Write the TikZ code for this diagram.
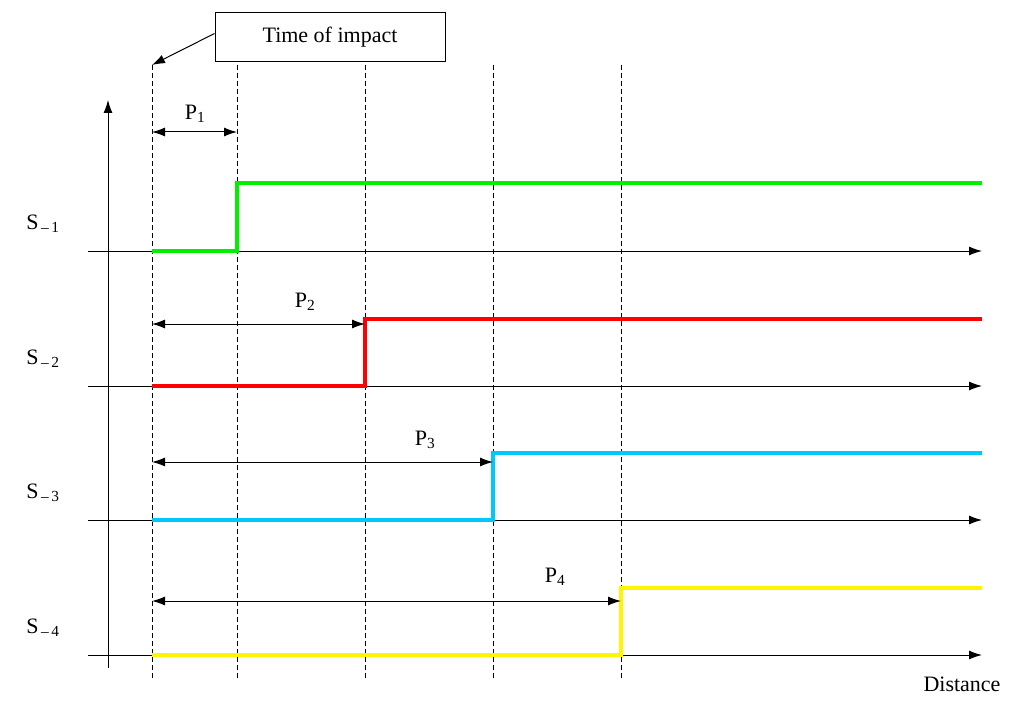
\documentclass[tikz,border=0pt]{standalone}
\usepackage{fontspec}
\usetikzlibrary{arrows.meta}
\setmainfont{Liberation Serif}
\begin{document}
\begin{tikzpicture}[x=1pt,y=-1pt,
 tip/.tip={Latex[length=13pt,width=9pt]},
 ax/.style={line width=1pt,-tip},
 dsh/.style={line width=1pt,dash pattern=on 5pt off 3pt},
 dim/.style={line width=1pt,tip-tip},
 sig/.style={line width=4.5pt,line join=miter},
 lab/.style={font=\fontsize{22}{24}\selectfont,inner sep=0pt}]
\useasboundingbox (0,0) rectangle (1024,714);
\definecolor{g}{RGB}{0,240,0}\definecolor{r}{RGB}{255,0,0}
\definecolor{b}{RGB}{0,200,250}\definecolor{yy}{RGB}{255,245,0}
% dashed lines
\foreach \n/\x in {a/152,b/237,c/365,d/493,e/621}{
 \coordinate (\n t) at (\x,65); \coordinate (\n b) at (\x,680);
 \draw[dsh] (\n t) -- (\n b);}
% vertical axis
\coordinate (v0) at (108,668); \coordinate (v1) at (108,100);
\draw[ax] (v0) -- (v1);
% horizontal axes
\foreach \i/\y in {1/251,2/386,3/520,4/655}{
 \coordinate (h\i s) at (88,\y); \coordinate (h\i e) at (982,\y);
 \draw[ax] (h\i s) -- (h\i e);
 \node[lab] (s\i) at (43,\y-27) {S\textsubscript{\,--\,\i}};}
% signals
\draw[sig,g] (152,251) -- (237,251) -- (237,183) -- (982,183);
\draw[sig,r] (152,386) -- (365,386) -- (365,319) -- (982,319);
\draw[sig,b] (152,520) -- (493,520) -- (493,453) -- (982,453);
\draw[sig,yy] (152,655) -- (621,655) -- (621,588) -- (982,588);
% dimension arrows
\coordinate (p1a) at (152,132); \coordinate (p1b) at (237,132);
\coordinate (p2a) at (152,324); \coordinate (p2b) at (365,324);
\coordinate (p3a) at (152,462); \coordinate (p3b) at (493,462);
\coordinate (p4a) at (152,601); \coordinate (p4b) at (621,601);
\draw[dim] (p1a) -- (p1b); \draw[dim] (p2a) -- (p2b);
\draw[dim] (p3a) -- (p3b); \draw[dim] (p4a) -- (p4b);
\node[lab] (P1) at (195,114) {P\textsubscript{1}};
\node[lab] (P2) at (305,302) {P\textsubscript{2}};
\node[lab] (P3) at (425,440) {P\textsubscript{3}};
\node[lab] (P4) at (555,577) {P\textsubscript{4}};
% box
\node[draw,line width=1pt,minimum width=230pt,minimum height=49pt,font=\fontsize{22}{24}\selectfont] (box) at (330,37.5) {Time of impact};
\draw[line width=1pt,-tip] (box.west) ++(0,-4) -- (at);
\node[lab,anchor=base] (dist) at (962,691) {Distance};
\end{tikzpicture}
\end{document}
